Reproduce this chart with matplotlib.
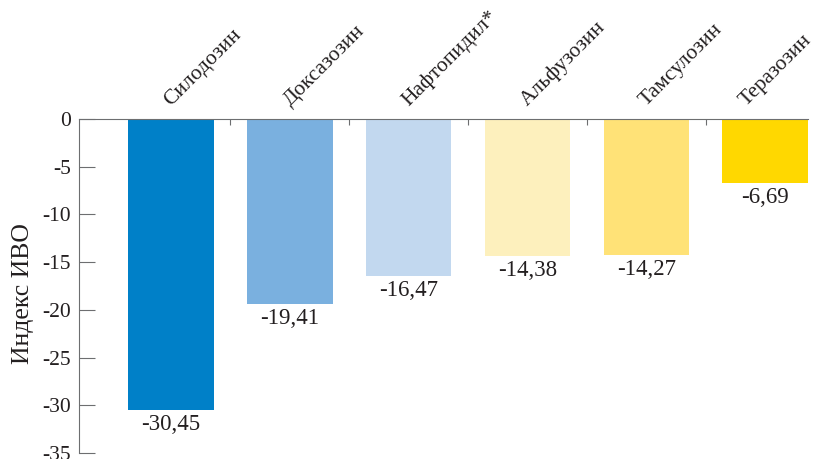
import matplotlib.pyplot as plt
import numpy as np

drugs = ["Силодозин", "Доксазозин", "Нафтопидил*", "Альфузозин", "Тамсулозин", "Теразозин"]
values = [-30.45, -19.41, -16.47, -14.38, -14.27, -6.69]
colors = ["#0080c8", "#7ab0df", "#c2d8ef", "#fdf0bd", "#ffe277", "#ffd800"]
yticks = [0, -5, -10, -15, -20, -25, -30, -35]

plt.rcParams['font.family'] = ['Liberation Serif', 'DejaVu Serif']
text_col = "#231f20"
axis_col = "#6d6e70"

fig = plt.figure(figsize=(8.16, 4.59), dpi=100)
ax = fig.add_axes([79 / 816, 6 / 459, (808 - 79) / 816, (453 - 119) / 459])

x = np.arange(len(drugs))
ax.bar(x, values, width=0.72, color=colors, zorder=1)

ax.set_xlim(-0.773, 5.36)
ax.set_ylim(-35, 0)

for s in ["right", "bottom"]:
    ax.spines[s].set_visible(False)
ax.spines["left"].set_color(axis_col)
ax.spines["top"].set_color(axis_col)
ax.spines["top"].set_zorder(3)

ax.set_yticks(yticks)
ax.set_yticklabels([str(t) for t in yticks], fontsize=15.5, color=text_col)
ax.tick_params(axis="y", direction="in", length=11.5, color=axis_col, pad=6)

ax.xaxis.tick_top()
ax.set_xticks(x[:-1] + 0.5)
ax.set_xticklabels([])
ax.tick_params(axis="x", direction="in", length=4.5, color=axis_col)

ax.set_ylabel("Индекс ИВО", fontsize=18.5, color=text_col)
ax.yaxis.set_label_coords(-0.062, 0.476)

# the last label sits further left so it fits the figure
label_dx = [0, 0, 0, 0, 0, -14]

for i, (name, v) in enumerate(zip(drugs, values)):
    ax.annotate(name, xy=(i, 0), xytext=(label_dx[i], 9), textcoords="offset points",
                rotation=45, rotation_mode="anchor", ha="left", va="baseline",
                fontsize=15.5, color=text_col, annotation_clip=False)
    ax.annotate(f"{v:.2f}".replace(".", ","), xy=(i, v), xytext=(0, -3),
                textcoords="offset points", ha="center", va="top",
                fontsize=16.5, color=text_col)

fig.savefig("out.png", dpi=100)
